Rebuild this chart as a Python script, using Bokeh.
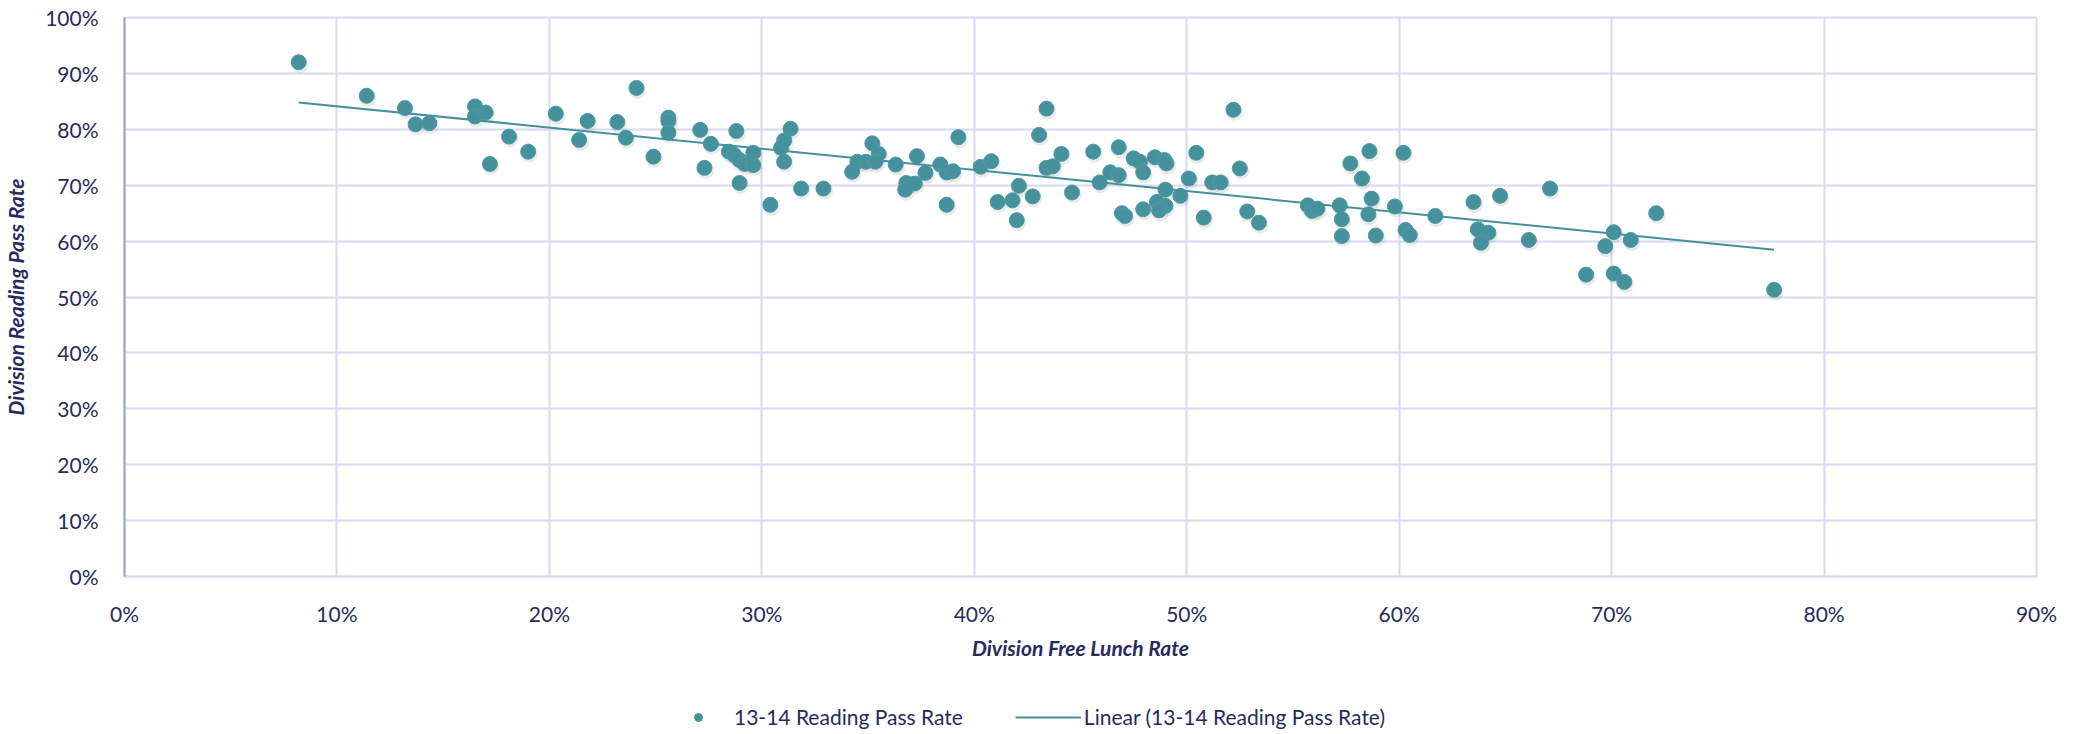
import numpy as np
from bokeh.plotting import figure
from bokeh.layouts import column
from bokeh.models import Range1d, PrintfTickFormatter, FixedTicker, Legend, LegendItem, ColumnDataSource
from bokeh.embed import file_html
from bokeh.resources import INLINE

# Division free lunch rate (%) and 13-14 reading pass rate (%)
free_lunch = [8.2, 11.4, 13.2, 13.7, 14.35, 16.5, 16.5, 17.0, 18.1, 17.2,
              19.0, 20.3, 21.4, 21.8, 23.2, 23.6, 24.1, 24.9, 25.6, 25.6,
              25.6, 27.1, 27.6, 27.3, 28.8, 28.45, 28.7, 28.95, 29.2, 29.6,
              29.6, 28.95, 30.4, 30.9, 31.05, 31.35, 31.05, 31.85, 32.9, 34.25,
              34.5, 34.9, 35.2, 35.5, 35.35, 36.3, 37.3, 37.7, 36.8, 37.2,
              36.75, 38.4, 38.7, 39.0, 38.7, 39.25, 40.3, 40.8, 41.1, 41.8,
              42.0, 42.1, 42.75, 43.05, 43.4, 43.4, 43.7, 44.1, 44.6, 45.6,
              45.9, 46.4, 46.8, 46.8, 46.95, 47.1, 47.5, 47.8, 47.95, 47.95,
              48.5, 48.95, 49.05, 49.0, 48.6, 49.0, 48.7, 49.7, 50.1, 50.45,
              50.8, 51.2, 51.6, 52.2, 52.5, 52.85, 53.4, 55.7, 55.9, 56.15,
              57.2, 57.3, 57.3, 57.7, 58.25, 58.6, 58.7, 58.55, 58.9, 59.8,
              60.2, 60.3, 60.5, 61.7, 63.5, 63.7, 64.2, 63.85, 64.75, 66.1,
              67.1, 68.8, 69.7, 70.1, 70.9, 70.1, 70.6, 72.1, 77.65]
reading_pass = [92.0, 86.0, 83.8, 80.9, 81.1, 84.1, 82.3, 83.0, 78.7, 73.8,
                76.0, 82.8, 78.1, 81.5, 81.3, 78.5, 87.4, 75.1, 82.1, 81.5,
                79.4, 79.9, 77.4, 73.1, 79.7, 76.0, 75.4, 74.5, 73.8, 73.6,
                75.8, 70.4, 66.5, 76.7, 78.0, 80.1, 74.2, 69.4, 69.4, 72.4,
                74.2, 74.2, 77.5, 75.6, 74.2, 73.7, 75.2, 72.2, 70.4, 70.3,
                69.2, 73.7, 72.3, 72.5, 66.5, 78.6, 73.3, 74.3, 67.0, 67.3,
                63.75, 69.9, 68.0, 79.0, 83.7, 73.1, 73.4, 75.6, 68.7, 76.0,
                70.5, 72.3, 76.8, 71.8, 65.0, 64.5, 74.8, 74.2, 72.3, 65.7,
                75.0, 74.5, 73.9, 69.2, 67.0, 66.3, 65.5, 68.1, 71.2, 75.8,
                64.2, 70.5, 70.5, 83.5, 73.0, 65.3, 63.3, 66.4, 65.4, 65.8,
                66.4, 63.9, 60.9, 73.9, 71.2, 76.1, 67.6, 64.8, 61.0, 66.2,
                75.8, 62.0, 61.1, 64.5, 67.0, 62.1, 61.5, 59.7, 68.1, 60.2,
                69.4, 54.0, 59.1, 61.6, 60.2, 54.2, 52.7, 65.0, 51.3]

x_ticks = [0, 10, 20, 30, 40, 50, 60, 70, 80, 90]
y_ticks = [0, 10, 20, 30, 40, 50, 60, 70, 80, 90, 100]

series_name = "13-14 Reading Pass Rate"
trend_name = "Linear (13-14 Reading Pass Rate)"

TEAL = "#45919C"
NAVY = "#272B5C"
GRID = "#D9DAF0"
FONT = "Lato"

FW, FH = 1912, 559
X0, X1, Y0, Y1 = 0, 90, 0, 100
TOTAL_W = 2063

# linear trend line fitted to data
xs = np.array(free_lunch)
ys = np.array(reading_pass)
slope, intercept = np.polyfit(xs, ys, 1)
tx = np.array([xs.min(), xs.max()])
ty = slope * tx + intercept

# soft drop shadow offset (1px right, 2.5px down) expressed in data units
sdx = 1.0 * (X1 - X0) / FW
sdy = -2.5 * (Y1 - Y0) / FH

p = figure(frame_width=FW, frame_height=FH,
           x_range=Range1d(X0, X1), y_range=Range1d(Y0, Y1),
           output_backend="svg", toolbar_location=None,
           min_border_left=117, min_border_right=34,
           min_border_top=17, min_border_bottom=0)
p.background_fill_color = "white"
p.border_fill_color = "white"
p.outline_line_color = GRID
p.outline_line_width = 2

p.xgrid.grid_line_color = GRID
p.xgrid.grid_line_width = 2
p.ygrid.grid_line_color = GRID
p.ygrid.grid_line_width = 2

shadow = ColumnDataSource(dict(x=xs + sdx, y=ys + sdy))
p.scatter("x", "y", source=shadow, size=17, fill_color="#7A7A7A",
          fill_alpha=0.16, line_color=None)

src = ColumnDataSource(dict(x=free_lunch, y=reading_pass))
p.scatter("x", "y", source=src, size=15, fill_color=TEAL,
          line_color="#4E9AA5", line_width=1)
p.line(tx, ty, line_color=TEAL, line_width=2)

for ax in (p.xaxis[0], p.yaxis[0]):
    ax.major_label_text_font = FONT
    ax.major_label_text_font_size = "21px"
    ax.major_label_text_color = NAVY
    ax.major_tick_line_color = None
    ax.minor_tick_line_color = None
    ax.axis_label_text_font = FONT
    ax.axis_label_text_font_size = "21px"
    ax.axis_label_text_font_style = "bold italic"
    ax.axis_label_text_color = NAVY

p.xaxis.ticker = FixedTicker(ticks=x_ticks)
p.yaxis.ticker = FixedTicker(ticks=y_ticks)
p.xaxis.formatter = PrintfTickFormatter(format="%d%%")
p.yaxis.formatter = PrintfTickFormatter(format="%d%%")
p.xaxis.axis_label = "Division Free Lunch Rate"
p.yaxis.axis_label = "Division Reading Pass Rate"
p.xaxis.axis_line_color = GRID
p.xaxis.axis_line_width = 2
p.yaxis.axis_line_color = "#9A9ED3"
p.yaxis.axis_line_width = 2
p.xaxis.major_label_standoff = 18
p.xaxis.axis_label_standoff = 6
p.yaxis.major_label_standoff = 20
p.yaxis.axis_label_standoff = 14

# legend strip below the chart; its proxy renderers sit outside the visible range
lp = figure(width=TOTAL_W, height=68, x_range=Range1d(0, 1), y_range=Range1d(0, 1),
            output_backend="svg", toolbar_location=None, min_border=0,
            x_axis_location=None, y_axis_location=None)
lp.outline_line_color = None
lp.background_fill_color = "white"
lp.border_fill_color = "white"
lp.xgrid.visible = False
lp.ygrid.visible = False
leg_pts = lp.scatter(x=[-10], y=[-10], size=15, fill_color=TEAL,
                     line_color="#4E9AA5", line_width=1)
leg_line = lp.line(x=[-10, -9], y=[-10, -10], line_color=TEAL, line_width=2)

legend = Legend(items=[LegendItem(label=series_name, renderers=[leg_pts]),
                       LegendItem(label=trend_name, renderers=[leg_line])],
                orientation="horizontal", location=(541, 1),
                glyph_width=66, glyph_height=20, label_standoff=3,
                spacing=52, margin=0, padding=2,
                label_text_font=FONT, label_text_font_size="21px",
                label_text_color=NAVY, border_line_color=None,
                background_fill_alpha=0)
lp.add_layout(legend, "center")

layout = column(p, lp, spacing=0)
open("out.html", "w").write(file_html(layout, INLINE))
